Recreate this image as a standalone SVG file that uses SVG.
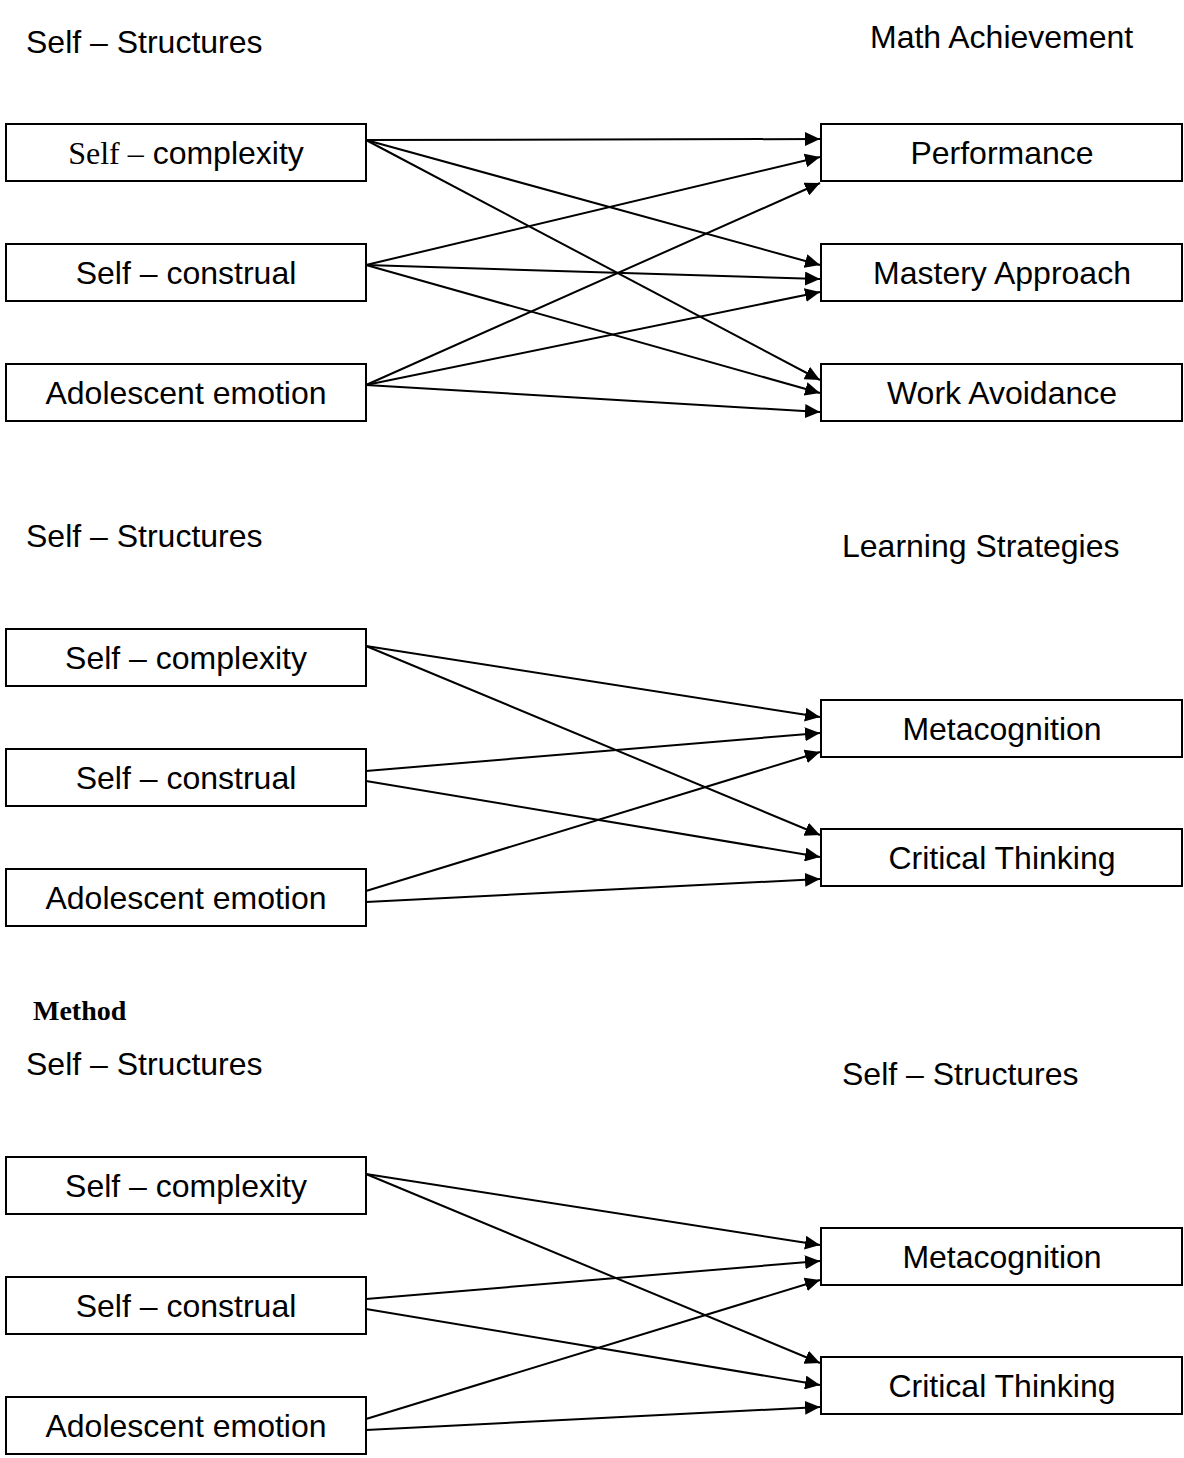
<svg xmlns="http://www.w3.org/2000/svg" width="1184" height="1458" viewBox="0 0 1184 1458">
  <style>
    .box { fill: #fff; stroke: #000; stroke-width: 2; }
    .lbl { font-family: "Liberation Sans", Arial, sans-serif; font-size: 32px; fill: #000; }
    .mid { text-anchor: middle; }
    .serif { font-family: "Liberation Serif", "Times New Roman", serif; }
    .head { font-family: "Liberation Serif", "Times New Roman", serif; font-weight: bold; font-size: 28px; fill: #000; }
    .edge { stroke: #000; stroke-width: 2; fill: none; marker-end: url(#arrow); }
  </style>
  <defs>
    <marker id="arrow" viewBox="0 0 15 14" refX="15" refY="7" markerWidth="15" markerHeight="14" markerUnits="userSpaceOnUse" orient="auto">
      <path d="M0,0 L15,7 L0,14 z" fill="#000"/>
    </marker>
  </defs>
  <rect width="1184" height="1458" fill="#fff"/>

  <!-- Section headings -->
  <text class="lbl" x="26" y="53">Self – Structures</text>
  <text class="lbl" x="870" y="48">Math Achievement</text>
  <text class="lbl" x="26" y="547">Self – Structures</text>
  <text class="lbl" x="842" y="557">Learning Strategies</text>
  <text class="head" x="33" y="1020">Method</text>
  <text class="lbl" x="26" y="1075">Self – Structures</text>
  <text class="lbl" x="842" y="1085">Self – Structures</text>

  <!-- Connectors -->
  <g id="connectors">
    <!-- block 1 -->
    <line class="edge" x1="366" y1="140" x2="820" y2="139"/>
    <line class="edge" x1="366" y1="140" x2="820" y2="265"/>
    <line class="edge" x1="366" y1="140" x2="820" y2="380"/>
    <line class="edge" x1="366" y1="265" x2="820" y2="157"/>
    <line class="edge" x1="366" y1="265" x2="820" y2="279"/>
    <line class="edge" x1="366" y1="265" x2="820" y2="393"/>
    <line class="edge" x1="366" y1="385" x2="820" y2="183"/>
    <line class="edge" x1="366" y1="385" x2="820" y2="292"/>
    <line class="edge" x1="366" y1="385" x2="820" y2="412"/>
    <!-- block 2 -->
    <line class="edge" x1="366" y1="646" x2="820" y2="717"/>
    <line class="edge" x1="366" y1="646" x2="820" y2="835"/>
    <line class="edge" x1="366" y1="771" x2="820" y2="733"/>
    <line class="edge" x1="366" y1="781" x2="820" y2="857"/>
    <line class="edge" x1="366" y1="891" x2="820" y2="752"/>
    <line class="edge" x1="366" y1="902" x2="820" y2="879"/>
    <!-- block 3 -->
    <line class="edge" x1="366" y1="1174" x2="820" y2="1245"/>
    <line class="edge" x1="366" y1="1174" x2="820" y2="1363"/>
    <line class="edge" x1="366" y1="1299" x2="820" y2="1261"/>
    <line class="edge" x1="366" y1="1309" x2="820" y2="1385"/>
    <line class="edge" x1="366" y1="1419" x2="820" y2="1280"/>
    <line class="edge" x1="366" y1="1430" x2="820" y2="1407"/>
  </g>

  <!-- Block 1 nodes -->
  <g id="n1-complexity">
    <rect class="box" x="6" y="124" width="360" height="57"/>
    <text class="lbl mid" x="186" y="164"><tspan class="serif">Self –</tspan> complexity</text>
  </g>
  <g id="n1-construal">
    <rect class="box" x="6" y="244" width="360" height="57"/>
    <text class="lbl mid" x="186" y="284">Self – construal</text>
  </g>
  <g id="n1-emotion">
    <rect class="box" x="6" y="364" width="360" height="57"/>
    <text class="lbl mid" x="186" y="404">Adolescent emotion</text>
  </g>
  <g id="n1-performance">
    <rect class="box" x="821" y="124" width="361" height="57"/>
    <text class="lbl mid" x="1002" y="164">Performance</text>
  </g>
  <g id="n1-mastery">
    <rect class="box" x="821" y="244" width="361" height="57"/>
    <text class="lbl mid" x="1002" y="284">Mastery Approach</text>
  </g>
  <g id="n1-avoidance">
    <rect class="box" x="821" y="364" width="361" height="57"/>
    <text class="lbl mid" x="1002" y="404">Work Avoidance</text>
  </g>

  <!-- Block 2 nodes -->
  <g id="n2-complexity">
    <rect class="box" x="6" y="629" width="360" height="57"/>
    <text class="lbl mid" x="186" y="669">Self – complexity</text>
  </g>
  <g id="n2-construal">
    <rect class="box" x="6" y="749" width="360" height="57"/>
    <text class="lbl mid" x="186" y="789">Self – construal</text>
  </g>
  <g id="n2-emotion">
    <rect class="box" x="6" y="869" width="360" height="57"/>
    <text class="lbl mid" x="186" y="909">Adolescent emotion</text>
  </g>
  <g id="n2-metacognition">
    <rect class="box" x="821" y="700" width="361" height="57"/>
    <text class="lbl mid" x="1002" y="740">Metacognition</text>
  </g>
  <g id="n2-critical">
    <rect class="box" x="821" y="829" width="361" height="57"/>
    <text class="lbl mid" x="1002" y="869">Critical Thinking</text>
  </g>

  <!-- Block 3 nodes -->
  <g id="n3-complexity">
    <rect class="box" x="6" y="1157" width="360" height="57"/>
    <text class="lbl mid" x="186" y="1197">Self – complexity</text>
  </g>
  <g id="n3-construal">
    <rect class="box" x="6" y="1277" width="360" height="57"/>
    <text class="lbl mid" x="186" y="1317">Self – construal</text>
  </g>
  <g id="n3-emotion">
    <rect class="box" x="6" y="1397" width="360" height="57"/>
    <text class="lbl mid" x="186" y="1437">Adolescent emotion</text>
  </g>
  <g id="n3-metacognition">
    <rect class="box" x="821" y="1228" width="361" height="57"/>
    <text class="lbl mid" x="1002" y="1268">Metacognition</text>
  </g>
  <g id="n3-critical">
    <rect class="box" x="821" y="1357" width="361" height="57"/>
    <text class="lbl mid" x="1002" y="1397">Critical Thinking</text>
  </g>
</svg>
